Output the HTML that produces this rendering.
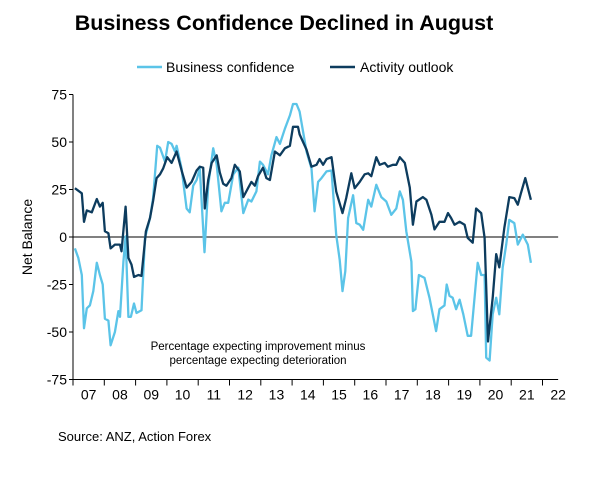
<!DOCTYPE html>
<html><head><meta charset="utf-8"><style>
body{margin:0;background:#fff;font-family:"Liberation Sans",sans-serif;}
svg text{font-family:"Liberation Sans",sans-serif;}
</style></head><body>
<svg id="c" width="600" height="475">
<text x="284" y="30" text-anchor="middle" font-size="21.5" font-weight="bold">Business Confidence Declined in August</text>
<g>
<line x1="137" y1="67" x2="162" y2="67" stroke="#5bc4e8" stroke-width="2.5"/>
<text x="166" y="72" font-size="14">Business confidence</text>
<line x1="330" y1="67" x2="355" y2="67" stroke="#0d3c5e" stroke-width="2.5"/>
<text x="360" y="72" font-size="14">Activity outlook</text>
</g>
<text transform="translate(32,237) rotate(-90)" text-anchor="middle" font-size="14">Net Balance</text>
<g id="axes"></g>
<g id="series"></g>
<text x="258" y="350" text-anchor="middle" font-size="11.5">Percentage expecting improvement minus</text>
<text x="258" y="364" text-anchor="middle" font-size="11.5">percentage expecting deterioration</text>
<text x="58" y="441" font-size="13">Source: ANZ, Action Forex</text>
</svg>
<script>
const yTicks=[75,50,25,0,-25,-50,-75];
const yearLabels=["07","08","09","10","11","12","13","14","15","16","17","18","19","20","21","22"];
const actDates=[2007.06,2007.28,2007.35,2007.44,2007.60,2007.76,2007.86,2007.95,2008.02,2008.13,2008.20,2008.34,2008.50,2008.55,2008.68,2008.77,2008.87,2008.95,2009.09,2009.19,2009.33,2009.46,2009.56,2009.67,2009.78,2009.88,2010.01,2010.15,2010.31,2010.47,2010.63,2010.79,2010.95,2011.05,2011.16,2011.21,2011.32,2011.43,2011.59,2011.69,2011.80,2011.90,2012.06,2012.17,2012.33,2012.44,2012.60,2012.70,2012.81,2012.91,2013.07,2013.18,2013.29,2013.45,2013.61,2013.77,2013.93,2014.03,2014.19,2014.24,2014.46,2014.62,2014.78,2014.88,2014.99,2015.10,2015.26,2015.41,2015.61,2015.73,2015.89,2016.00,2016.16,2016.32,2016.43,2016.53,2016.69,2016.80,2016.96,2017.06,2017.22,2017.33,2017.44,2017.60,2017.76,2017.86,2017.97,2018.18,2018.29,2018.45,2018.55,2018.71,2018.87,2018.98,2019.08,2019.19,2019.35,2019.51,2019.61,2019.77,2019.88,2020.04,2020.15,2020.26,2020.41,2020.52,2020.62,2020.78,2020.94,2021.10,2021.21,2021.31,2021.45,2021.63];
const actValues=[25.7,23,8,14,13,20,16,18,3,2,-6,-4,-4,-7.5,16,-11,-14.5,-21,-20,-20.5,3,10,19,31,33,36,42,39,45,35,26,29,35,37,36.5,15,30,39,43,34,28,27,31,38,34.5,21,26,29,27,32,36.5,31,30,45,43,46.7,48,58,58,54,46,37,38,41,38,41,42,24,12.6,20.5,33.5,25.7,29,33,33.5,32,42,38,39,37,38,38,42,39,26,6.5,18.7,21,19.6,11.7,4,8,8,12.6,10,6.5,8,6.5,-0.5,-3,15,12.6,-0.5,-55,-32,-9,-16,4.7,21,20.5,17,23,31,19.6];
const busDates=[2007.06,2007.17,2007.28,2007.35,2007.44,2007.54,2007.65,2007.76,2007.86,2007.95,2008.02,2008.13,2008.20,2008.34,2008.45,2008.50,2008.61,2008.68,2008.77,2008.85,2008.95,2009.03,2009.19,2009.30,2009.46,2009.56,2009.69,2009.78,2009.94,2010.04,2010.15,2010.26,2010.31,2010.47,2010.63,2010.73,2010.84,2010.95,2011.05,2011.20,2011.32,2011.48,2011.59,2011.74,2011.85,2011.96,2012.12,2012.28,2012.44,2012.60,2012.70,2012.86,2012.97,2013.07,2013.23,2013.34,2013.50,2013.61,2013.77,2013.93,2014.03,2014.14,2014.24,2014.46,2014.62,2014.72,2014.83,2014.94,2015.10,2015.26,2015.41,2015.52,2015.61,2015.70,2015.79,2015.95,2016.05,2016.16,2016.27,2016.43,2016.53,2016.69,2016.85,2017.01,2017.17,2017.33,2017.44,2017.54,2017.65,2017.81,2017.86,2017.94,2018.05,2018.23,2018.39,2018.60,2018.71,2018.87,2018.94,2019.03,2019.13,2019.24,2019.35,2019.47,2019.61,2019.72,2019.93,2020.04,2020.15,2020.20,2020.31,2020.41,2020.52,2020.62,2020.73,2020.84,2020.94,2021.10,2021.21,2021.37,2021.53,2021.63];
const busValues=[-6,-11,-20,-48,-37.5,-36,-28.5,-13.6,-20,-25,-43,-44,-57,-50,-39,-42,-13,0.3,-42,-42,-35,-40,-38.6,-0.5,10,20.5,48,47,39.7,50,49,45,48,36,15,13,27,30,36,-8,27,46.7,38,13.5,18,18,33,36.5,12.6,19.7,18.7,24,39.7,38,33,43,52.6,49,57,64,70,70,66,45,36,13.5,29,31,34.5,35,1.2,-12,-28.5,-18,10,22,7.3,6.5,3.8,19.6,16,27.5,21,18.7,11.7,15,24,19.6,3,-13,-39,-38,-20,-21.5,-32,-49.5,-38,-36,-25,-31,-32,-38,-33,-40.7,-52,-52,-13.6,-20,-20,-63.5,-65,-40.7,-32,-40.7,-16,-4,9,7.3,-4,1.2,-4,-13.6];
const NS="http://www.w3.org/2000/svg";
const X0=73,YW=31.3,Y0=237,YS=1.9;
const xs=t=>X0+(t-2007)*YW;
const ys=v=>Y0-v*YS;
const ax=document.getElementById('axes');
function mk(tag,attrs,parent){const e=document.createElementNS(NS,tag);for(const k in attrs)e.setAttribute(k,attrs[k]);parent.appendChild(e);return e;}
const yl=mk('line',{x1:X0,y1:ys(75),x2:X0,y2:ys(-75),stroke:'#000','stroke-width':1},ax);


const xl=mk('line',{x1:X0,y1:ys(-75),x2:xs(2022.5),y2:ys(-75),stroke:'#000','stroke-width':1},ax);


const zl=mk('line',{x1:X0,y1:ys(0),x2:xs(2022.5),y2:ys(0),stroke:'#000','stroke-width':1},ax);


yTicks.forEach(v=>{
 const t=mk('line',{x1:X0-4,y1:ys(v),x2:X0,y2:ys(v),stroke:'#000'},ax);
 
 
 const l=mk('text',{x:X0-6,y:ys(v)+5,'text-anchor':'end','font-size':14},ax);
 
 
 l.textContent=v;
});
yearLabels.forEach((s,i)=>{
 const t=mk('line',{x1:xs(2007+i),y1:ys(-75),x2:xs(2007+i),y2:ys(-75)+6,stroke:'#000'},ax);
 
 
 const l=mk('text',{x:xs(2007.5+i),y:ys(-75)+20,'text-anchor':'middle','font-size':14},ax);
 
 
 l.textContent=s;
});
const sg=document.getElementById('series');
const pb=mk('polyline',{points:busDates.map((d,i)=>xs(d).toFixed(1)+','+ys(busValues[i]).toFixed(1)).join(' '),fill:'none',stroke:'#5bc4e8','stroke-width':2.3,'stroke-linejoin':'round'},sg);


const pa=mk('polyline',{points:actDates.map((d,i)=>xs(d).toFixed(1)+','+ys(actValues[i]).toFixed(1)).join(' '),fill:'none',stroke:'#0d3c5e','stroke-width':2.3,'stroke-linejoin':'round'},sg);


</script>
</body></html>
